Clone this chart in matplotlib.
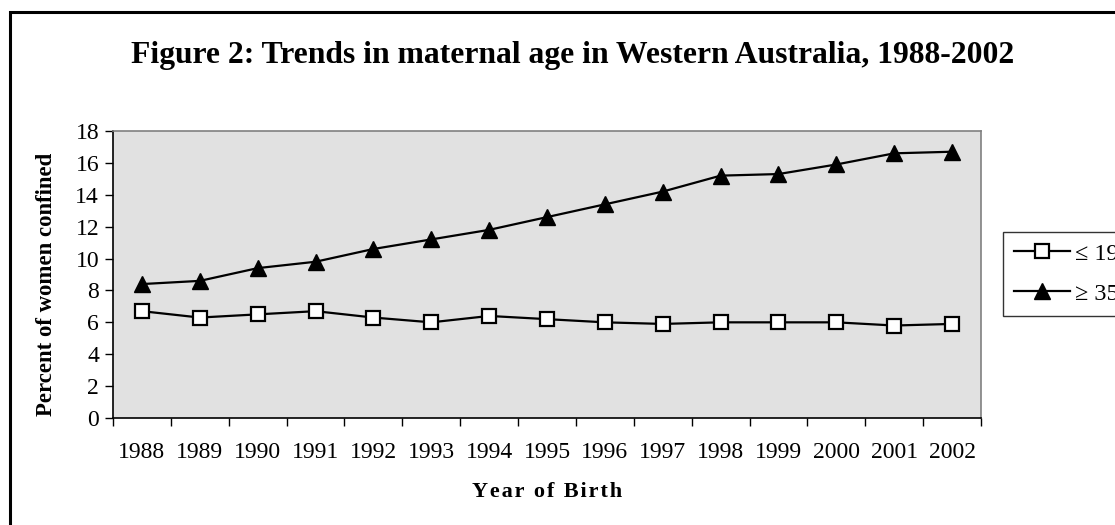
import matplotlib
matplotlib.use("Agg")
import matplotlib.pyplot as plt
from matplotlib.patches import Rectangle

plt.rcParams['font.family'] = ['Liberation Serif', 'DejaVu Serif']

# data
years = ['1988', '1989', '1990', '1991', '1992', '1993', '1994', '1995',
         '1996', '1997', '1998', '1999', '2000', '2001', '2002']
age_le19 = [6.7, 6.3, 6.5, 6.7, 6.3, 6.0, 6.4, 6.2, 6.0, 5.9, 6.0, 6.0, 6.0, 5.8, 5.9]
age_ge35 = [8.4, 8.6, 9.4, 9.8, 10.6, 11.2, 11.8, 12.6, 13.4, 14.2, 15.2, 15.3, 15.9, 16.6, 16.7]
y_ticks = [0, 2, 4, 6, 8, 10, 12, 14, 16, 18]

W, H = 1115, 525
fig = plt.figure(figsize=(W / 100, H / 100), dpi=100)
fig.patch.set_facecolor('white')

# outer frame, runs off the right and bottom edge like in the original
fig.patches.append(Rectangle((10 / W, -0.05), 1.1, 1 - 12 / H + 0.05,
                             transform=fig.transFigure, fill=False,
                             edgecolor='black', linewidth=2.2))

# plot area in pixels: left 113, right 981, top 131, bottom 418
ax = fig.add_axes([113 / W, 1 - 418 / H, (981 - 113) / W, (418 - 131) / H])
ax.set_facecolor('#e1e1e1')

x = list(range(len(years)))
ax.plot(x, age_le19, color='black', linewidth=1.6, marker='s', markersize=10,
        markerfacecolor='white', markeredgecolor='black', markeredgewidth=1.6,
        label='\u2264 19')
ax.plot(x, age_ge35, color='black', linewidth=1.6, marker='^', markersize=11,
        markerfacecolor='black', markeredgecolor='black', label='\u2265 35')

ax.set_xlim(-0.5, len(years) - 0.5)
ax.set_ylim(0, 18)
ax.set_yticks(y_ticks)
ax.set_xticks(x)
ax.set_xticklabels(years)
ax.set_xticks([i - 0.5 for i in range(len(years) + 1)], minor=True)
ax.tick_params(axis='x', which='major', length=0, pad=17, labelsize=17)
ax.tick_params(axis='x', which='minor', length=6, width=1, direction='out')
ax.tick_params(axis='y', length=6, width=1, direction='out', labelsize=17, pad=4)

for side in ['top', 'right']:
    ax.spines[side].set_color('#808080')
    ax.spines[side].set_linewidth(1.2)
for side in ['left', 'bottom']:
    ax.spines[side].set_color('black')
    ax.spines[side].set_linewidth(1.2)

# slightly spaced letters, as in the original
ax.set_xlabel('\u200a'.join('Year of Birth'), fontsize=16, fontweight='bold', labelpad=14)
ax.set_ylabel('Percent of women confined', fontsize=16.4, fontweight='bold')
ax.yaxis.set_label_coords(-56 / (981 - 113), 0.467)

fig.text(573 / W, 1 - 63 / H, 'Figure 2: Trends in maternal age in Western Australia, 1988-2002',
         ha='center', va='baseline', fontsize=22.8, fontweight='bold')

leg = fig.legend(loc='upper left', bbox_to_anchor=(1003 / W, 1 - 232 / H),
                 fontsize=17.5, frameon=True, fancybox=False, edgecolor='black',
                 handlelength=2.3, handletextpad=0.2, borderpad=0.45,
                 labelspacing=0.73, borderaxespad=0)
leg.get_frame().set_linewidth(1.0)

fig.savefig('out.png', dpi=100)
